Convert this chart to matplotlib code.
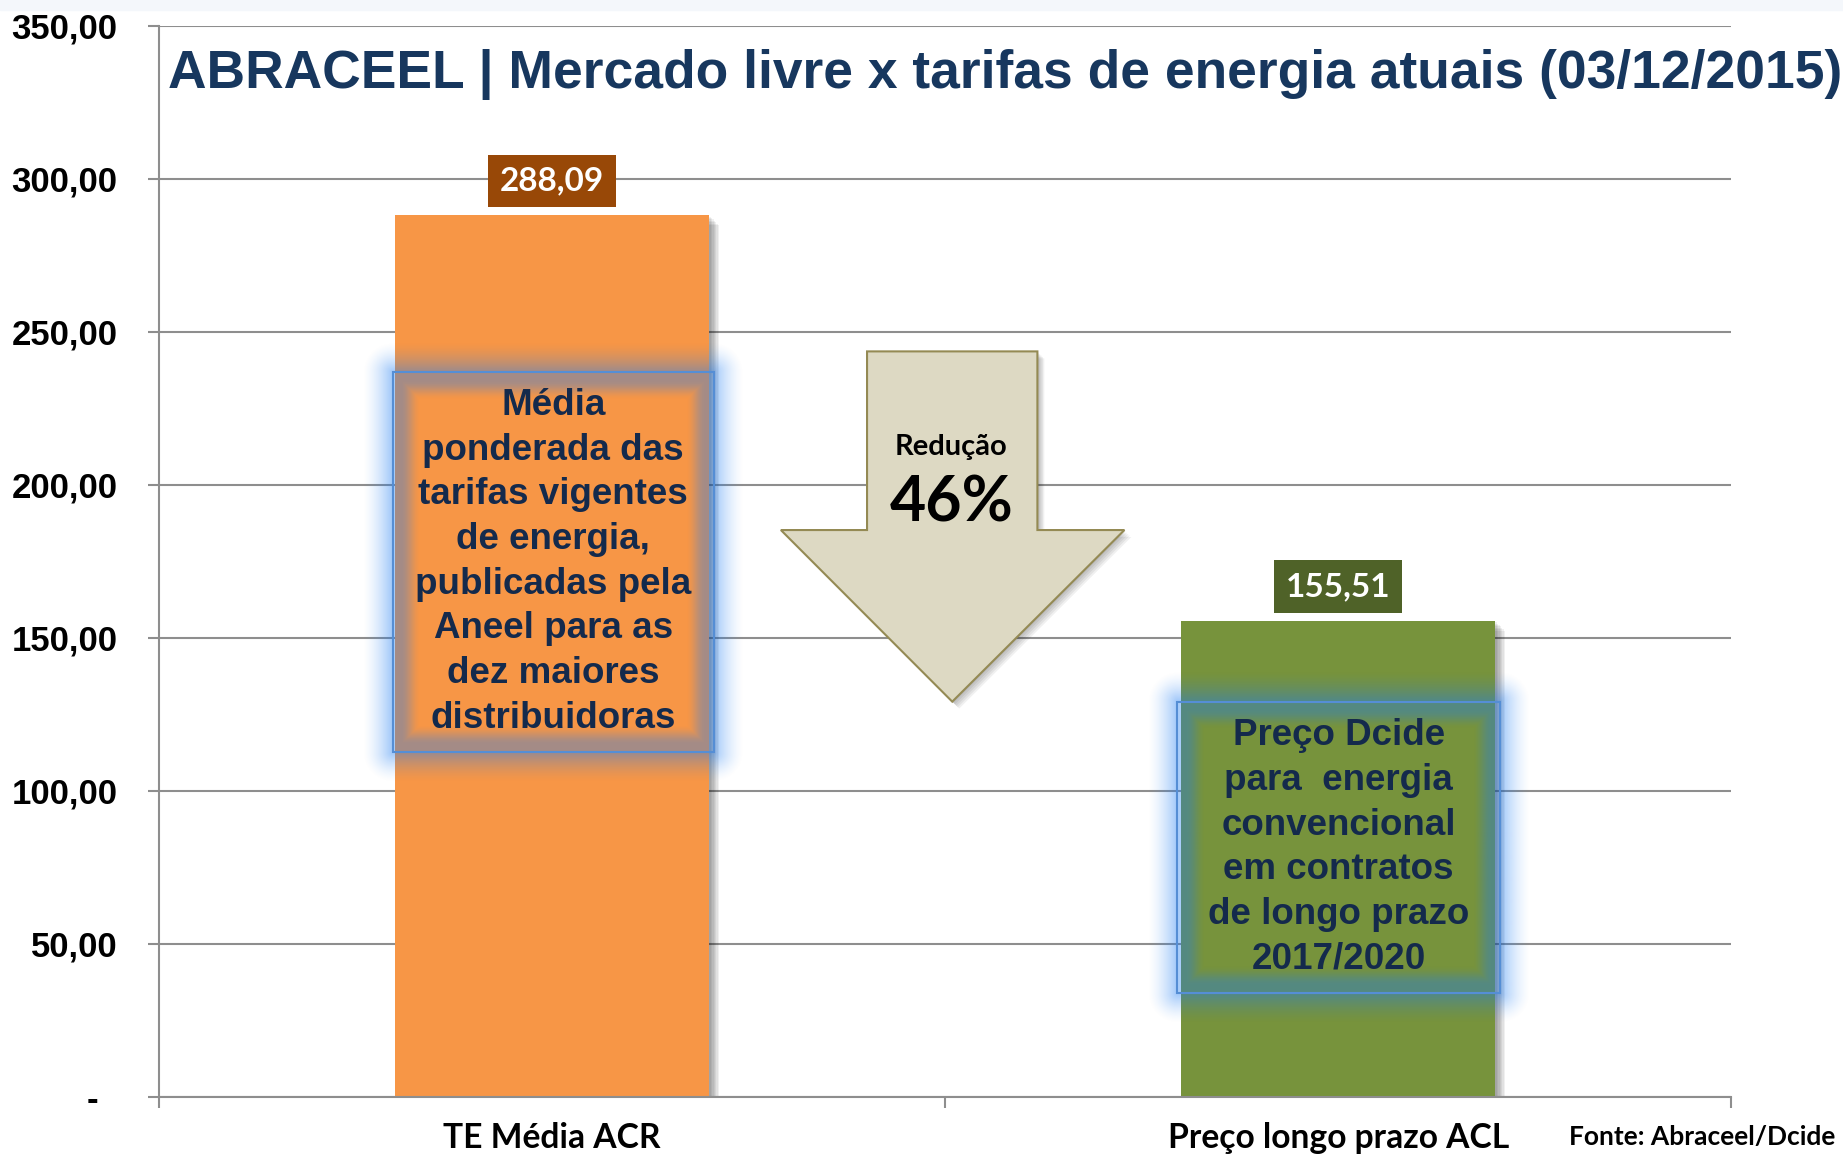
import numpy as np
import matplotlib
matplotlib.use("Agg")
import matplotlib.pyplot as plt
from matplotlib.patches import Rectangle, Polygon
import matplotlib.patheffects as pe

# ---------------- data ----------------
categories = ["TE Média ACR", "Preço longo prazo ACL"]
values = [288.09, 155.51]
value_labels = ["288,09", "155,51"]
bar_colors = ["#F79646", "#77933C"]
label_box_colors = ["#984807", "#4F6228"]
y_ticks = [0, 50, 100, 150, 200, 250, 300, 350]
y_tick_labels = ["-  ", "50,00", "100,00", "150,00", "200,00", "250,00", "300,00", "350,00"]
box_texts = [
    "Média\nponderada das\ntarifas vigentes\nde energia,\npublicadas pela\nAneel para as\ndez maiores\ndistribuidoras",
    "Preço Dcide\npara  energia\nconvencional\nem contratos\nde longo prazo\n2017/2020",
]
title = "ABRACEEL | Mercado livre x tarifas de energia atuais (03/12/2015)"
source = "Fonte: Abraceel/Dcide"
reduction_label = "Redução"
reduction_pct = f"{round((1 - values[1] / values[0]) * 100)}%"

# ---------------- layout ----------------
W, H = 1843, 1162
fig = plt.figure(figsize=(W / 100, H / 100), dpi=100)
fig.patch.set_facecolor("white")
fig.patches.append(Rectangle((0, 1 - 10 / H), 1, 10 / H, transform=fig.transFigure,
                             color="#F4F7FB", zorder=0))
ax = fig.add_axes([0.0863, 0.0563, 0.9394 - 0.0863, 0.9777 - 0.0563])
XLIM, YLIM = (-0.5, 1.5), (0, 350)
ax.set_xlim(*XLIM)
ax.set_ylim(*YLIM)

CAL = ["Lato", "DejaVu Sans"]
ARIAL = ["Liberation Sans", "DejaVu Sans"]
GRID = "#8E8E8E"

x = np.arange(len(categories))
bars = ax.bar(x, values, width=0.4, color=bar_colors, zorder=2)
shadow = [pe.SimplePatchShadow(offset=(k, -k), shadow_rgbFace="k", alpha=0.06) for k in range(1, 8)]
for b in bars:
    b.set_path_effects(shadow + [pe.Normal()])

# axes styling
ax.set_axisbelow(True)
ax.yaxis.grid(True, color=GRID, lw=1.5)
for s in ("top", "right"):
    ax.spines[s].set_visible(False)
for s in ("left", "bottom"):
    ax.spines[s].set_color(GRID)
    ax.spines[s].set_linewidth(1.5)
ax.set_yticks(y_ticks)
ax.set_yticklabels(y_tick_labels, fontfamily=ARIAL, fontweight="bold", fontsize=25)
ax.tick_params(axis="y", length=8, width=1.5, color=GRID, pad=22)
ax.set_xticks(x)
ax.set_xticklabels(categories, fontfamily=CAL, fontweight="bold", fontsize=24.2)
ax.set_xticks([-0.5, 0.5, 1.5], minor=True)
ax.tick_params(axis="x", which="major", length=0, pad=18)
ax.tick_params(axis="x", which="minor", length=8, width=1.5, color=GRID)

# value label boxes
for xi, v, lab, c in zip(x, values, value_labels, label_box_colors):
    ax.annotate(lab, (xi, v), xytext=(0, 20), textcoords="offset pixels",
                ha="center", va="bottom", color="white", fontfamily=CAL,
                fontweight="bold", fontsize=24, zorder=6,
                bbox=dict(boxstyle="square,pad=0.35", fc=c, ec="none"))


# glow boxes
def glow_box(xc, half_w, y_lo, y_hi, text):
    X0, Y0 = ax.transData.transform((xc - half_w, y_lo))
    X1, Y1 = ax.transData.transform((xc + half_w, y_hi))
    m_out, m_in = 30.0, 28.0
    xs = np.arange(X0 - m_out, X1 + m_out + 1, 1.0)
    ys = np.arange(Y0 - m_out, Y1 + m_out + 1, 1.0)
    XX, YY = np.meshgrid(xs, ys)
    dx = np.maximum(np.maximum(X0 - XX, XX - X1), 0)
    dy = np.maximum(np.maximum(Y0 - YY, YY - Y1), 0)
    dout = np.hypot(dx, dy)
    din = np.minimum.reduce([XX - X0, X1 - XX, YY - Y0, Y1 - YY])
    inside = (dx == 0) & (dy == 0)
    t_in = np.clip((m_in - din) / (m_in * 0.7), 0, 1)
    a_in = 0.38 * t_in * t_in * (3 - 2 * t_in)
    t_out = np.clip(1 - dout / m_out, 0, 1)
    a_out = 0.42 * t_out ** 1.5
    alpha = np.where(inside, a_in, a_out)
    img = np.zeros(XX.shape + (4,))
    img[..., 0] = 28 / 255
    img[..., 1] = 123 / 255
    img[..., 2] = 243 / 255
    img[..., 3] = alpha
    inv = ax.transData.inverted()
    dx0, dy0 = inv.transform((xs[0] - 0.5, ys[0] - 0.5))
    dx1, dy1 = inv.transform((xs[-1] + 0.5, ys[-1] + 0.5))
    ax.imshow(img, extent=(dx0, dx1, dy0, dy1), origin="lower", aspect="auto",
              interpolation="bilinear", zorder=3)
    ax.add_patch(Rectangle((xc - half_w, y_lo), 2 * half_w, y_hi - y_lo, fill=False,
                           ec="#558ED5", lw=1.5, zorder=4))
    ax.text(xc, (y_lo + y_hi) / 2, text, ha="center", va="center", color="#142A4C",
            fontfamily=ARIAL, fontweight="bold", fontsize=26.5, linespacing=1.36, zorder=5)


glow_box(0.0015, 0.2045, 112.6, 237.0, box_texts[0])
glow_box(1.0005, 0.2055, 33.8, 129.1, box_texts[1])

# reduction arrow
arrow_pts = [(0.4006, 243.6), (0.6173, 243.6), (0.6173, 185.2), (0.728, 185.2),
             (0.509, 129.1), (0.291, 185.2), (0.4006, 185.2)]
arrow = Polygon(arrow_pts, closed=True, fc="#DDD9C3", ec="#948A54", lw=1.5, zorder=2.5)
arrow.set_path_effects([pe.SimplePatchShadow(offset=(k, -k), shadow_rgbFace="k", alpha=0.06)
                        for k in range(1, 6)] + [pe.Normal()])
ax.add_patch(arrow)
ax.text(0.508, 212.4, reduction_label, ha="center", va="center", color="black",
        fontfamily=CAL, fontweight="bold", fontsize=21, zorder=5)
ax.text(0.508, 194.0, reduction_pct, ha="center", va="center", color="black",
        fontfamily=CAL, fontweight="bold", fontsize=45, zorder=5)

ax.set_xlim(*XLIM)
ax.set_ylim(*YLIM)

# title and source
fig.text(168 / W, 1 - 88 / H, title, ha="left", va="baseline", color="#17375E",
         fontfamily=ARIAL, fontweight="bold", fontsize=38.4)
fig.text(1569 / W, 1 - 1137 / H, source, ha="left", va="center", color="black",
         fontfamily=CAL, fontweight="bold", fontsize=19)

fig.savefig("out.png", dpi=100)
